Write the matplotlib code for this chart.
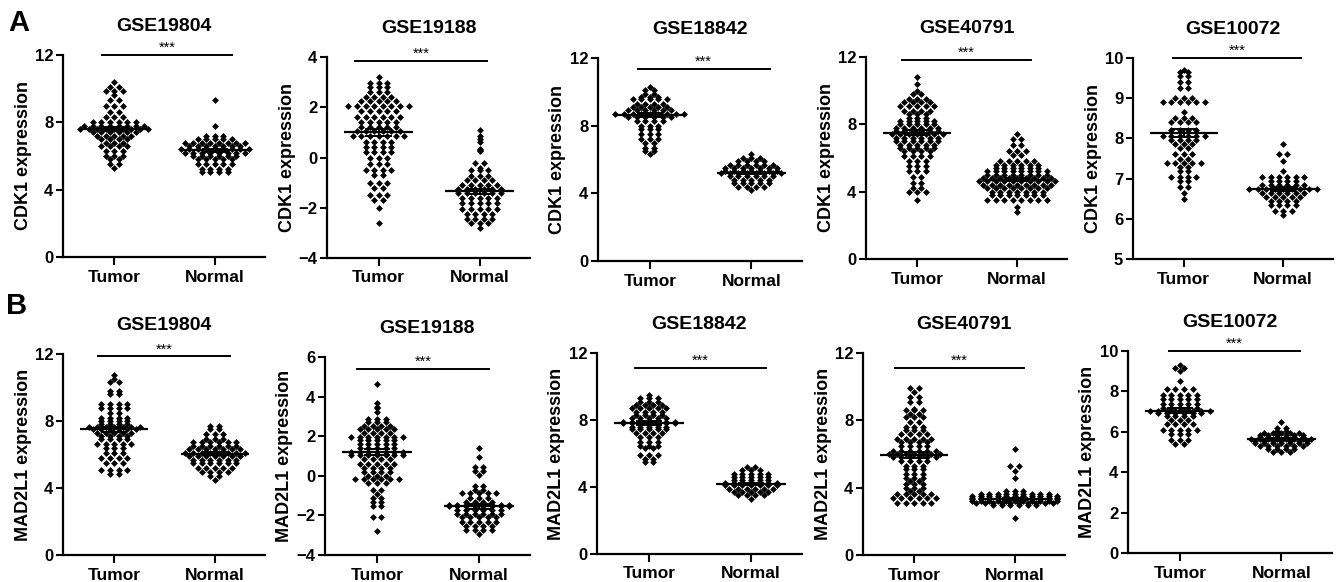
import numpy as np
import matplotlib
matplotlib.use("Agg")
import matplotlib.pyplot as plt

plt.rcParams["font.family"] = ["Liberation Sans", "DejaVu Sans"]
plt.rcParams["font.weight"] = "bold"

datasets = ["GSE19804", "GSE19188", "GSE18842", "GSE40791", "GSE10072"]
groups = ["Tumor", "Normal"]

# ---- CDK1 (row A) ----
cdk1_19804_tumor = [10.4, 10.1, 10.1, 9.85, 9.85, 9.85, 9.6, 9.3, 9.3, 9.0, 9.0, 9.0,
                    8.6, 8.6, 8.3, 8.3, 8.3, 8.0, 8.0, 8.0, 8.0, 8.0, 8.0,
                    7.8, 7.8, 7.8, 7.8, 7.8, 7.8, 7.8, 7.8,
                    7.6, 7.6, 7.6, 7.6, 7.6, 7.6, 7.6, 7.6, 7.6,
                    7.4, 7.4, 7.4, 7.4, 7.4, 7.4, 7.2, 7.2, 7.2, 7.2, 7.2,
                    7.0, 7.0, 7.0, 7.0, 6.8, 6.8, 6.8, 6.6, 6.6, 6.6, 6.6,
                    6.3, 6.3, 6.3, 6.0, 6.0, 6.0, 5.8, 5.8, 5.5, 5.5, 5.3]
cdk1_19804_normal = [9.3, 7.8, 7.2, 7.2, 7.2, 7.0, 7.0, 7.0, 7.0, 7.0,
                     6.8, 6.8, 6.8, 6.8, 6.8, 6.8, 6.8, 6.8,
                     6.6, 6.6, 6.6, 6.6, 6.6, 6.6, 6.6,
                     6.4, 6.4, 6.4, 6.4, 6.4, 6.4, 6.4, 6.4, 6.4,
                     6.2, 6.2, 6.2, 6.2, 6.2, 6.2, 6.2, 6.2,
                     6.0, 6.0, 6.0, 6.0, 6.0, 6.0, 5.8, 5.8, 5.8, 5.8, 5.8,
                     5.5, 5.5, 5.5, 5.5, 5.5, 5.25, 5.25, 5.25, 5.25,
                     5.05, 5.05, 5.05, 5.05]
cdk1_19188_tumor = [3.2, 2.95, 2.95, 2.95, 2.8, 2.8, 2.8, 2.6, 2.6, 2.6,
                    2.4, 2.4, 2.4, 2.4, 2.25, 2.25, 2.25, 2.25, 2.25,
                    2.05, 2.05, 2.05, 2.05, 2.05, 2.05, 2.05, 2.05,
                    1.85, 1.85, 1.85, 1.85, 1.85, 1.6, 1.6, 1.6, 1.6, 1.6, 1.6,
                    1.4, 1.4, 1.4, 1.4, 1.4, 1.2, 1.2, 1.2, 1.2, 1.2,
                    1.05, 1.05, 1.05, 1.05, 1.05, 1.05,
                    0.85, 0.85, 0.85, 0.85, 0.85, 0.85, 0.85,
                    0.6, 0.6, 0.6, 0.6, 0.4, 0.4, 0.4, 0.4, 0.2, 0.2, 0.2, 0.2,
                    0.0, 0.0, 0.0, -0.25, -0.25, -0.25, -0.5, -0.5, -0.5, -0.5,
                    -0.7, -0.7, -1.0, -1.0, -1.0, -1.2, -1.2, -1.5, -1.5, -1.5,
                    -1.7, -1.7, -2.0, -2.6]
cdk1_19188_normal = [1.1, 0.85, 0.75, 0.6, 0.35, 0.3, 0.25, -0.2, -0.2, -0.4,
                     -0.5, -0.5, -0.5, -0.75, -0.75, -0.75, -0.9, -0.9, -0.9, -0.9,
                     -1.1, -1.1, -1.1, -1.1, -1.1, -1.25, -1.25, -1.25, -1.25, -1.25, -1.25,
                     -1.4, -1.4, -1.4, -1.4, -1.4, -1.4, -1.6, -1.6, -1.6, -1.6, -1.6,
                     -1.8, -1.8, -1.8, -1.8, -1.8, -2.05, -2.05, -2.05, -2.05, -2.05,
                     -2.25, -2.25, -2.25, -2.25, -2.45, -2.45, -2.45, -2.45,
                     -2.6, -2.6, -2.6, -2.8]
cdk1_18842_tumor = [10.3, 10.1, 10.1, 9.9, 9.9, 9.7, 9.7, 9.7,
                    9.55, 9.55, 9.55, 9.55, 9.55, 9.3, 9.3, 9.3, 9.3,
                    9.1, 9.1, 9.1, 9.1, 9.1, 8.9, 8.9, 8.9, 8.9, 8.9, 8.9,
                    8.7, 8.7, 8.7, 8.7, 8.7, 8.7, 8.7, 8.7, 8.7,
                    8.5, 8.5, 8.5, 8.5, 8.5, 8.5, 8.3, 8.3, 8.3, 8.3,
                    8.0, 8.0, 8.0, 7.8, 7.8, 7.8, 7.5, 7.5, 7.5, 7.2, 7.2, 7.2,
                    7.0, 7.0, 6.7, 6.7, 6.5, 6.5, 6.3]
cdk1_18842_normal = [6.3, 6.1, 6.1, 6.1, 5.9, 5.9, 5.9, 5.9, 5.7, 5.7, 5.7, 5.7, 5.7, 5.7,
                     5.5, 5.5, 5.5, 5.5, 5.5, 5.5, 5.5, 5.3, 5.3, 5.3, 5.3, 5.3, 5.3, 5.3,
                     5.2, 5.2, 5.2, 5.2, 5.2, 5.2, 5.2, 5.2,
                     5.0, 5.0, 5.0, 5.0, 5.0, 5.0, 4.8, 4.8, 4.8, 4.8, 4.8,
                     4.6, 4.6, 4.6, 4.6, 4.6, 4.4, 4.4, 4.4, 4.4, 4.2]
cdk1_40791_tumor = [10.8, 10.4, 10.0, 9.8, 9.8, 9.5, 9.5, 9.5, 9.3, 9.3, 9.3, 9.3,
                    9.1, 9.1, 9.1, 9.1, 9.1, 8.8, 8.8, 8.8, 8.8, 8.6, 8.6, 8.6,
                    8.4, 8.4, 8.4, 8.2, 8.2, 8.2, 8.2, 8.2, 8.0, 8.0, 8.0, 8.0, 8.0,
                    7.8, 7.8, 7.8, 7.8, 7.8, 7.8, 7.6, 7.6, 7.6, 7.6, 7.6, 7.6,
                    7.4, 7.4, 7.4, 7.4, 7.4, 7.4, 7.4, 7.2, 7.2, 7.2, 7.2, 7.2, 7.2,
                    7.0, 7.0, 7.0, 7.0, 7.0, 7.0, 6.8, 6.8, 6.8, 6.8, 6.8,
                    6.6, 6.6, 6.6, 6.6, 6.6, 6.4, 6.4, 6.4, 6.4, 6.1, 6.1, 6.1, 6.1,
                    5.8, 5.8, 5.8, 5.5, 5.5, 5.5, 5.2, 5.2, 5.2, 4.9, 4.9,
                    4.5, 4.5, 4.2, 4.2, 4.0, 4.0, 4.0, 3.5]
cdk1_40791_normal = [7.4, 7.1, 7.1, 6.8, 6.8, 6.4, 6.4, 6.4, 6.2, 6.2,
                     5.8, 5.8, 5.8, 5.8, 5.8, 5.6, 5.6, 5.6, 5.6, 5.6, 5.6,
                     5.4, 5.4, 5.4, 5.4, 5.4, 5.4, 5.2, 5.2, 5.2, 5.2, 5.2, 5.2, 5.2, 5.2,
                     5.0, 5.0, 5.0, 5.0, 5.0, 5.0, 5.0, 5.0,
                     4.8, 4.8, 4.8, 4.8, 4.8, 4.8, 4.8, 4.8, 4.8,
                     4.65, 4.65, 4.65, 4.65, 4.65, 4.65, 4.65, 4.65, 4.65, 4.65,
                     4.4, 4.4, 4.4, 4.4, 4.4, 4.4, 4.4, 4.4, 4.4,
                     4.2, 4.2, 4.2, 4.2, 4.2, 4.2, 4.2, 4.2,
                     4.0, 4.0, 4.0, 4.0, 4.0, 4.0, 4.0, 3.8, 3.8, 3.8, 3.8, 3.8, 3.8, 3.8,
                     3.5, 3.5, 3.5, 3.5, 3.5, 3.5, 3.5, 3.5, 3.1, 2.8]
cdk1_10072_tumor = [9.7, 9.65, 9.65, 9.55, 9.55, 9.4, 9.4, 9.25, 9.25, 9.0, 9.0, 9.0,
                    8.9, 8.9, 8.9, 8.9, 8.9, 8.9, 8.65, 8.5, 8.5, 8.5, 8.4, 8.4, 8.4, 8.4,
                    8.2, 8.2, 8.2, 8.2, 8.05, 8.05, 8.05, 8.05, 8.05, 8.05,
                    7.95, 7.95, 7.95, 7.95, 7.85, 7.85, 7.85, 7.75, 7.75,
                    7.6, 7.6, 7.6, 7.5, 7.5, 7.4, 7.4, 7.4, 7.4, 7.4, 7.3, 7.3, 7.2, 7.2,
                    7.05, 7.05, 7.05, 7.05, 6.95, 6.95, 6.8, 6.8, 6.65, 6.5]
cdk1_10072_normal = [7.85, 7.6, 7.6, 7.45, 7.2, 7.05, 7.05, 7.05, 7.05, 7.05, 7.05,
                     6.95, 6.95, 6.95, 6.95, 6.85, 6.85, 6.85, 6.85, 6.85, 6.85,
                     6.75, 6.75, 6.75, 6.75, 6.75, 6.75, 6.75, 6.75, 6.75,
                     6.65, 6.65, 6.65, 6.65, 6.65, 6.65, 6.55, 6.55, 6.55, 6.55, 6.55,
                     6.45, 6.45, 6.45, 6.45, 6.35, 6.35, 6.35, 6.35, 6.2, 6.2, 6.2, 6.1]

# ---- MAD2L1 (row B) ----
mad2l1_19804_tumor = [10.75, 10.5, 10.3, 10.3, 9.8, 9.8, 9.6, 9.6, 9.0, 9.0, 9.0, 9.0,
                      8.8, 8.8, 8.8, 8.8, 8.5, 8.5, 8.2, 8.2, 8.2, 8.2, 8.0, 8.0, 8.0, 8.0,
                      7.8, 7.8, 7.8, 7.8, 7.65, 7.65, 7.65, 7.65, 7.65, 7.65, 7.65,
                      7.5, 7.5, 7.5, 7.5, 7.5, 7.5, 7.3, 7.3, 7.3, 7.3, 7.3,
                      7.1, 7.1, 7.1, 7.1, 6.9, 6.9, 6.9, 6.9, 6.6, 6.6, 6.6, 6.6, 6.6,
                      6.4, 6.4, 6.4, 6.1, 6.1, 6.1, 5.8, 5.8, 5.8, 5.8, 5.5, 5.5, 5.5,
                      5.1, 5.1, 5.1, 5.1, 4.85, 4.85]
mad2l1_19804_normal = [7.7, 7.7, 7.5, 7.5, 7.2, 7.2, 7.2, 6.9, 6.9, 6.9,
                       6.75, 6.75, 6.75, 6.75, 6.75, 6.75, 6.5, 6.5, 6.5, 6.5, 6.5, 6.5,
                       6.3, 6.3, 6.3, 6.3, 6.3, 6.3, 6.3, 6.1, 6.1, 6.1, 6.1, 6.1, 6.1, 6.1, 6.1,
                       5.9, 5.9, 5.9, 5.9, 5.9, 5.9, 5.9, 5.7, 5.7, 5.7, 5.7, 5.7, 5.7,
                       5.5, 5.5, 5.5, 5.5, 5.5, 5.5, 5.2, 5.2, 5.2, 5.2, 5.2,
                       4.95, 4.95, 4.95, 4.95, 4.7, 4.7, 4.45]
mad2l1_19188_tumor = [4.65, 3.7, 3.45, 3.4, 3.2, 2.85, 2.85, 2.85, 2.7, 2.7, 2.7,
                      2.5, 2.5, 2.5, 2.5, 2.35, 2.35, 2.35, 2.35, 2.35, 2.15, 2.15, 2.15, 2.15,
                      1.95, 1.95, 1.95, 1.95, 1.95, 1.95, 1.95, 1.8, 1.8, 1.8, 1.8, 1.8,
                      1.6, 1.6, 1.6, 1.6, 1.6, 1.4, 1.4, 1.4, 1.4, 1.4,
                      1.2, 1.2, 1.2, 1.2, 1.2, 1.2, 1.2, 1.05, 1.05, 1.05, 1.05, 1.05, 1.05, 1.05,
                      0.85, 0.85, 0.85, 0.85, 0.6, 0.6, 0.6, 0.6, 0.6, 0.4, 0.4, 0.4, 0.4,
                      0.2, 0.2, 0.2, 0.2, 0.0, 0.0, 0.0,
                      -0.15, -0.15, -0.15, -0.15, -0.15, -0.15, -0.35, -0.35, -0.35,
                      -0.7, -0.7, -0.9, -1.1, -1.1, -1.3, -1.3, -1.55, -1.55, -2.1, -2.1, -2.8]
mad2l1_19188_normal = [1.4, 0.95, 0.45, 0.45, 0.25, 0.25, 0.05, -0.5, -0.5, -0.7, -0.7,
                       -0.85, -0.85, -0.85, -0.85, -0.85, -1.1, -1.1, -1.1, -1.3, -1.3, -1.3, -1.3,
                       -1.45, -1.45, -1.45, -1.45, -1.45, -1.45, -1.45, -1.45,
                       -1.55, -1.55, -1.55, -1.55, -1.55, -1.55, -1.55, -1.55,
                       -1.75, -1.75, -1.75, -1.75, -1.75, -1.75, -1.95, -1.95, -1.95, -1.95, -1.95, -1.95,
                       -2.1, -2.1, -2.1, -2.1, -2.1, -2.35, -2.35, -2.35, -2.35, -2.35,
                       -2.55, -2.55, -2.55, -2.55, -2.75, -2.75, -2.75, -2.75, -2.95]
mad2l1_18842_tumor = [9.5, 9.3, 9.3, 9.3, 9.1, 9.1, 9.1, 8.9, 8.9, 8.9, 8.9,
                      8.7, 8.7, 8.7, 8.7, 8.7, 8.5, 8.5, 8.5, 8.5, 8.3, 8.3, 8.3, 8.3,
                      8.1, 8.1, 8.1, 8.1, 8.1, 7.9, 7.9, 7.9, 7.9, 7.9, 7.9, 7.9,
                      7.8, 7.8, 7.8, 7.8, 7.8, 7.8, 7.8, 7.6, 7.6, 7.6, 7.6, 7.6,
                      7.45, 7.45, 7.45, 7.45, 7.45, 7.2, 7.2, 7.2, 7.2, 7.0, 7.0, 7.0,
                      6.7, 6.7, 6.7, 6.45, 6.45, 6.45, 6.3, 6.3, 5.9, 5.9, 5.9, 5.7, 5.7, 5.5, 5.5]
mad2l1_18842_normal = [5.2, 5.2, 5.0, 5.0, 5.0, 4.8, 4.8, 4.8, 4.8, 4.8,
                       4.6, 4.6, 4.6, 4.6, 4.6, 4.4, 4.4, 4.4, 4.4, 4.4,
                       4.25, 4.25, 4.25, 4.25, 4.25, 4.25, 4.25, 4.1, 4.1, 4.1, 4.1, 4.1, 4.1, 4.1,
                       3.9, 3.9, 3.9, 3.9, 3.9, 3.9, 3.7, 3.7, 3.7, 3.7, 3.7,
                       3.55, 3.55, 3.55, 3.55, 3.3]
mad2l1_40791_tumor = [9.9, 9.9, 9.7, 9.4, 9.4, 9.1, 9.1, 8.7, 8.6, 8.6, 8.6, 8.4, 8.4,
                      8.2, 8.2, 8.2, 7.9, 7.9, 7.6, 7.6, 7.6, 7.4, 7.4, 7.4,
                      7.2, 7.2, 7.2, 7.2, 6.9, 6.9, 6.9, 6.9, 6.9, 6.7, 6.7, 6.7, 6.7,
                      6.5, 6.5, 6.5, 6.5, 6.2, 6.2, 6.2, 6.2, 6.2, 6.2,
                      6.0, 6.0, 6.0, 6.0, 6.0, 6.0, 6.0, 5.8, 5.8, 5.8, 5.8, 5.8, 5.8,
                      5.6, 5.6, 5.6, 5.6, 5.3, 5.3, 5.3, 5.1, 5.1, 5.1, 4.8, 4.8, 4.8,
                      4.6, 4.6, 4.6, 4.4, 4.4, 4.2, 4.2, 4.2, 4.0, 4.0, 4.0, 3.8, 3.8,
                      3.6, 3.6, 3.6, 3.6, 3.6, 3.4, 3.4, 3.4, 3.4, 3.4, 3.4,
                      3.1, 3.1, 3.1, 3.1, 3.1]
mad2l1_40791_normal = [6.3, 5.3, 5.3, 5.0, 4.6, 3.8, 3.8, 3.8,
                       3.6, 3.6, 3.6, 3.6, 3.6, 3.6, 3.6, 3.6, 3.6,
                       3.5, 3.5, 3.5, 3.5, 3.5, 3.5, 3.5, 3.5, 3.5, 3.5, 3.5,
                       3.4, 3.4, 3.4, 3.4, 3.4, 3.4, 3.4, 3.4, 3.4, 3.4, 3.4,
                       3.3, 3.3, 3.3, 3.3, 3.3, 3.3, 3.3, 3.3, 3.3, 3.3, 3.3,
                       3.2, 3.2, 3.2, 3.2, 3.2, 3.2, 3.2, 3.2, 3.2, 3.2, 3.2,
                       3.1, 3.1, 3.1, 3.1, 3.1, 3.1, 3.1, 3.1, 3.1, 3.1,
                       3.0, 3.0, 3.0, 3.0, 3.0, 3.0, 2.2]
mad2l1_10072_tumor = [9.3, 9.15, 9.15, 9.0, 8.5, 8.1, 8.1, 8.1, 8.1,
                      7.8, 7.8, 7.8, 7.8, 7.8, 7.6, 7.6, 7.6, 7.6, 7.6,
                      7.4, 7.4, 7.4, 7.4, 7.4, 7.2, 7.2, 7.2, 7.2, 7.2,
                      7.05, 7.05, 7.05, 7.05, 7.05, 7.05, 7.05, 7.05,
                      6.95, 6.95, 6.95, 6.95, 6.95, 6.95, 6.8, 6.8, 6.8, 6.8,
                      6.6, 6.6, 6.6, 6.4, 6.4, 6.4, 6.4, 6.1, 6.1, 6.1, 6.1, 6.1,
                      5.9, 5.9, 5.9, 5.6, 5.6, 5.6, 5.4, 5.4]
mad2l1_10072_normal = [6.5, 6.2, 6.2, 6.05, 6.05, 5.95, 5.95, 5.95, 5.95, 5.95,
                       5.85, 5.85, 5.85, 5.85, 5.85, 5.85, 5.75, 5.75, 5.75, 5.75, 5.75, 5.75,
                       5.65, 5.65, 5.65, 5.65, 5.65, 5.65, 5.65, 5.65,
                       5.55, 5.55, 5.55, 5.55, 5.55, 5.55, 5.55,
                       5.45, 5.45, 5.45, 5.45, 5.45, 5.45, 5.45,
                       5.3, 5.3, 5.3, 5.3, 5.3, 5.3, 5.15, 5.15, 5.15, 5.15, 5.0, 5.0, 5.0]

# group means shown by the long horizontal bars
cdk1_tumor_mean = [7.6, 1.0, 8.65, 7.5, 8.13]
cdk1_normal_mean = [6.35, -1.35, 5.2, 4.7, 6.75]
mad2l1_tumor_mean = [7.5, 1.2, 7.8, 5.95, 7.05]
mad2l1_normal_mean = [6.05, -1.55, 4.2, 3.35, 5.65]

cdk1_tumor = [cdk1_19804_tumor, cdk1_19188_tumor, cdk1_18842_tumor, cdk1_40791_tumor, cdk1_10072_tumor]
cdk1_normal = [cdk1_19804_normal, cdk1_19188_normal, cdk1_18842_normal, cdk1_40791_normal, cdk1_10072_normal]
mad2l1_tumor = [mad2l1_19804_tumor, mad2l1_19188_tumor, mad2l1_18842_tumor, mad2l1_40791_tumor, mad2l1_10072_tumor]
mad2l1_normal = [mad2l1_19804_normal, mad2l1_19188_normal, mad2l1_18842_normal, mad2l1_40791_normal, mad2l1_10072_normal]

# axis limits / ticks per panel
ylims_a = [(0, 12), (-4, 4), (0, 12), (0, 12), (5, 10)]
yticks_a = [[0, 4, 8, 12], [-4, -2, 0, 2, 4], [0, 4, 8, 12], [0, 4, 8, 12], [5, 6, 7, 8, 9, 10]]
ylims_b = [(0, 12), (-4, 6), (0, 12), (0, 12), (0, 10)]
yticks_b = [[0, 4, 8, 12], [-4, -2, 0, 2, 4, 6], [0, 4, 8, 12], [0, 4, 8, 12], [0, 2, 4, 6, 8, 10]]

# layout in pixels: (left, right, top, bottom) of each axes box
W, H = 1339, 582
boxes_a = [(63, 265, 55, 257), (327, 530, 57, 258), (598, 802, 58, 261),
           (866, 1067, 57, 259), (1133, 1333, 58, 259)]
boxes_b = [(63, 265, 354, 555), (325, 530, 357, 555), (597, 802, 353, 554),
           (863, 1065, 353, 555), (1128, 1332, 351, 553)]
# significance bar: x start, x end, y
bars_a = [(-0.12, 1.17, 12.0), (-0.23, 1.07, 3.83), (-0.12, 1.18, 11.37),
          (-0.15, 1.14, 11.82), (-0.11, 1.18, 10.0)]
bars_b = [(-0.16, 1.15, 11.86), (-0.2, 1.1, 5.38), (-0.14, 1.15, 11.13),
          (-0.19, 1.09, 11.1), (-0.11, 1.18, 10.0)]


def swarm_x(values, center, dx=0.085):
    vals = np.asarray(values, dtype=float)
    xs = np.empty(len(vals))
    for v in np.unique(vals):
        idx = np.where(vals == v)[0]
        n = len(idx)
        xs[idx] = center + (np.arange(n) - (n - 1) / 2) * dx
    return xs


def draw_panel(box, title, gene, tumor, normal, means, ylim, yticks, bar):
    l, r, t, b = box
    ax = fig.add_axes([l / W, 1 - b / H, (r - l) / W, (b - t) / H])
    for i, (vals, m) in enumerate(zip([tumor, normal], means)):
        ax.plot(swarm_x(vals, i), vals, linestyle="none", marker="D",
                markersize=3.5, color="black", markeredgewidth=0, clip_on=False, zorder=2)
        sem = np.std(vals, ddof=1) / np.sqrt(len(vals))
        ax.hlines(m, i - 0.34, i + 0.34, color="black", lw=1.6, zorder=3)
        ax.vlines(i, m - sem, m + sem, color="black", lw=1.4, zorder=3)
        ax.hlines([m - sem, m + sem], i - 0.13, i + 0.13, color="black", lw=1.4, zorder=3)
    x0, x1, yb = bar
    ax.plot([x0, x1], [yb, yb], color="black", lw=1.4, clip_on=False)
    ax.text((x0 + x1) / 2, yb, "***", ha="center", va="bottom", fontsize=10.5,
            fontweight="normal", transform=ax.transData)
    ax.set_xlim(-0.51, 1.5)
    ax.set_ylim(*ylim)
    ax.set_yticks(yticks)
    ax.set_xticks([0, 1])
    ax.set_xticklabels(groups, fontsize=12.5, fontweight="bold")
    ax.tick_params(axis="y", labelsize=12, width=1.5, length=5, pad=2)
    ax.tick_params(axis="x", width=1.5, length=6, pad=3)
    for lab in ax.get_yticklabels():
        lab.set_fontweight("bold")
    for side in ["top", "right"]:
        ax.spines[side].set_visible(False)
    for side in ["left", "bottom"]:
        ax.spines[side].set_linewidth(1.6)
    ax.set_ylabel(gene + " expression", fontsize=13, fontweight="bold")
    ax.yaxis.set_label_coords(-0.155, 0.5)
    ax.set_title(title, fontsize=14, fontweight="bold", pad=17)
    return ax


fig = plt.figure(figsize=(W / 100, H / 100), dpi=100)

for k in range(5):
    draw_panel(boxes_a[k], datasets[k], "CDK1", cdk1_tumor[k], cdk1_normal[k],
               [cdk1_tumor_mean[k], cdk1_normal_mean[k]], ylims_a[k], yticks_a[k], bars_a[k])
    draw_panel(boxes_b[k], datasets[k], "MAD2L1", mad2l1_tumor[k], mad2l1_normal[k],
               [mad2l1_tumor_mean[k], mad2l1_normal_mean[k]], ylims_b[k], yticks_b[k], bars_b[k])

fig.text(19 / W, 1 - 23 / H, "A", fontsize=21, fontweight="bold", ha="center", va="center")
fig.text(17 / W, 1 - 306 / H, "B", fontsize=21, fontweight="bold", ha="center", va="center")

fig.savefig("out.png", dpi=100)
